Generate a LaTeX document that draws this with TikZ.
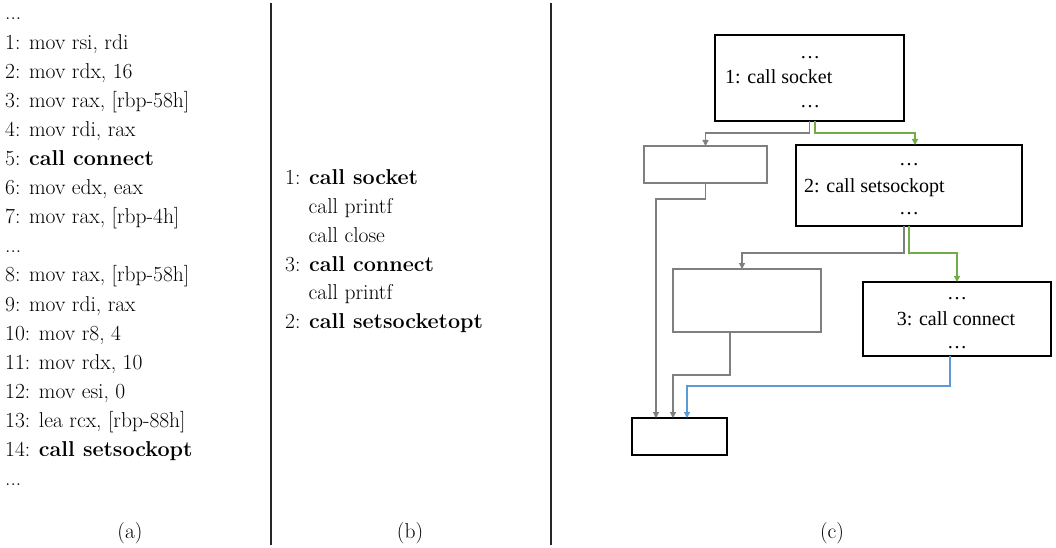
\documentclass[tikz,border=0pt]{standalone}
\usepackage{fontspec}
\newfontfamily\boxfont{Liberation Serif}
\usetikzlibrary{arrows.meta,calc}
\definecolor{gcol}{HTML}{7F7F7F}
\definecolor{grn}{HTML}{70AD47}
\definecolor{blu}{HTML}{5B9BD5}
\begin{document}
\begin{tikzpicture}[x=1pt,y=-1pt,
 code/.style={anchor=base west,inner sep=0,font=\fontsize{21.5}{25}\selectfont},
 capt/.style={anchor=base,inner sep=0,font=\fontsize{21.5}{25}\selectfont},
 bx/.style={draw=black,line width=1.8pt,inner sep=0,outer sep=0},
 gbx/.style={draw=gcol,line width=1.5pt,inner sep=0,outer sep=0},
 btxt/.style={inner sep=0,font=\boxfont\fontsize{20}{24}\selectfont},
 conn/.style={line width=1.3pt,-{Triangle[length=6pt,width=6pt]}},
 sep/.style={draw=black!85,line width=1.2pt},
]
\fill[white] (0,0) rectangle (1056,548);
\useasboundingbox (0,0) rectangle (1056,548);

% (a)
\node[code] (a0) at (5,20) {...};
\node[code] (a1) at (5,49.1) {1: mov rsi, rdi};
\node[code] (a2) at (5,78.2) {2: mov rdx, 16};
\node[code] (a3) at (5,107.3) {3: mov rax, [rbp-58h]};
\node[code] (a4) at (5,136.4) {4: mov rdi, rax};
\node[code] (a5) at (5,165.5) {5: \textbf{call connect}};
\node[code] (a6) at (5,194.6) {6: mov edx, eax};
\node[code] (a7) at (5,223.7) {7: mov rax, [rbp-4h]};
\node[code] (a8) at (5,252.8) {...};
\node[code] (a9) at (5,281.9) {8: mov rax, [rbp-58h]};
\node[code] (a10) at (5,311) {9: mov rdi, rax};
\node[code] (a11) at (5,340.1) {10: mov r8, 4};
\node[code] (a12) at (5,369.2) {11: mov rdx, 10};
\node[code] (a13) at (5,398.3) {12: mov esi, 0};
\node[code] (a14) at (5,427.4) {13: lea rcx, [rbp-88h]};
\node[code] (a15) at (5,456.5) {14: \textbf{call setsockopt}};
\node[code] (a16) at (5,485.6) {...};

% (b)
\node[code] (b1) at (285,185) {1: \textbf{call socket}};
\node[code] (b2) at (308.5,213.7) {call printf};
\node[code] (b3) at (308.5,242.4) {call close};
\node[code] (b4) at (285,271.1) {3: \textbf{call connect}};
\node[code] (b5) at (308.5,299.8) {call printf};
\node[code] (b6) at (285,328.5) {2: \textbf{call setsocketopt}};

% separators
\draw[sep] (271,3) -- (271,545);
\draw[sep] (551,3) -- (551,545);

% captions
\node[capt] (ca) at (130,538) {(a)};
\node[capt] (cb) at (410,538) {(b)};
\node[capt] (cc) at (832,538) {(c)};

% (c) boxes
\node[bx,minimum width=189,minimum height=86] (box1) at (809.5,78) {};
\node[bx,minimum width=226,minimum height=81] (box2) at (909,185.5) {};
\node[bx,minimum width=188,minimum height=74] (box3) at (957,319) {};
\node[gbx,minimum width=123,minimum height=37] (g1) at (705.5,164.5) {};
\node[gbx,minimum width=148,minimum height=63] (gm) at (747,300.5) {};
\node[bx,minimum width=95,minimum height=37] (bot) at (679.5,436.5) {};

% box texts
\node[btxt,anchor=base] (t1a) at (810,58.5) {…};
\node[btxt,anchor=base west] (t1b) at (725,84) {1: call socket};
\node[btxt,anchor=base] (t1c) at (810,108) {…};
\node[btxt,anchor=base] (t2a) at (909,165) {…};
\node[btxt,anchor=base west] (t2b) at (804,192) {2: call setsockopt};
\node[btxt,anchor=base] (t2c) at (909,214) {…};
\node[btxt,anchor=base] (t3a) at (957,299) {…};
\node[btxt,anchor=base] (t3b) at (956,325) {3: call connect};
\node[btxt,anchor=base] (t3c) at (957,348) {…};

% connectors
\draw[conn,gcol] (box1.south) -- ++(0,12) -| (g1.north);
\draw[conn,grn] ([xshift=5.5pt]box1.south) -- ++(0,12) -| ([xshift=6pt]box2.north);
\draw[conn,gcol] (g1.south) -- ++(0,16) -| ([xshift=-23.5pt]bot.north);
\draw[conn,gcol] ([xshift=-5pt]box2.south) -- ++(0,27) -| ([xshift=-5pt]gm.north);
\draw[conn,grn] (box2.south) -- ++(0,27) -| (box3.north);
\draw[conn,gcol] ([xshift=-17pt]gm.south) -- ++(0,43) -| ([xshift=-6.5pt]bot.north);
\draw[conn,blu] ([xshift=-7pt]box3.south) -- ++(0,30) -| ([xshift=7.5pt]bot.north);
\end{tikzpicture}
\end{document}
